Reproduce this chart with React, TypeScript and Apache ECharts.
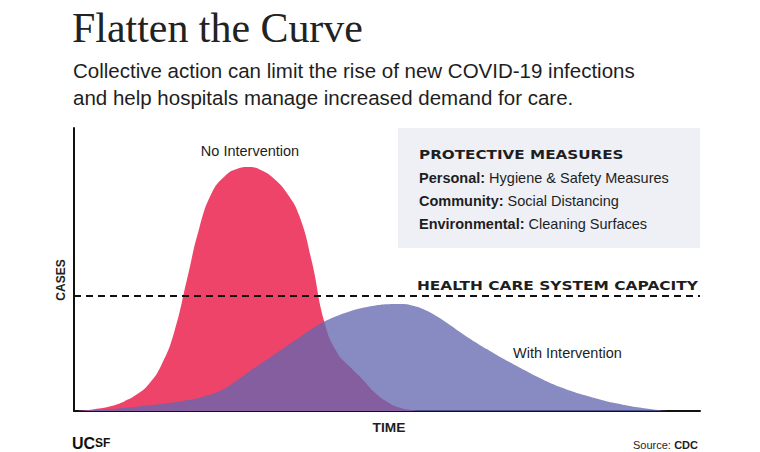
import React, { useEffect, useRef } from "react";
import * as echarts from "echarts";

// ---- data ----
const days = [
  0, 2, 4, 6, 8, 10, 12, 14, 16, 18, 20, 22, 24, 26, 28, 30, 32, 34, 36, 38, 40,
  42, 44, 46, 48, 50, 52, 54, 56, 58, 60, 62, 64, 66, 68, 70, 72, 74, 76, 78, 80,
  82, 84, 86, 88, 90, 92, 94, 96, 98, 100,
];
const noIntervention = [
  0, 0.3, 0.9, 1.8, 3.4, 5.8, 9.6, 16.4, 27.8, 46.0, 64.5, 77.0, 82.8, 85.5, 86.2,
  85.0, 82.0, 77.0, 68.9, 52.7, 31.4, 20.8, 15.8, 11.4, 6.6, 3.3, 1.2, 0.3, 0, 0,
  0, 0, 0, 0, 0, 0, 0, 0, 0, 0, 0, 0, 0, 0, 0, 0, 0, 0, 0, 0, 0,
];
const withIntervention = [
  0, 0.2, 0.4, 0.7, 1.1, 1.5, 2.0, 2.5, 3.1, 3.8, 4.7, 6.0, 7.9, 10.8, 14.0, 17.0,
  20.0, 23.0, 26.0, 29.0, 31.6, 33.6, 35.2, 36.4, 37.2, 37.7, 37.8, 37.3, 35.8,
  33.4, 30.5, 27.4, 24.5, 21.8, 19.2, 16.8, 14.4, 12.1, 10.0, 8.2, 6.6, 5.3, 4.1,
  3.0, 2.1, 1.3, 0.7, 0.2, 0, 0, 0,
];
const capacity = 40.6;

const titleText = "Flatten the Curve";
const subtitleLines = [
  "Collective action can limit the rise of new COVID-19 infections",
  "and help hospitals manage increased demand for care.",
];
const measuresTitle = "PROTECTIVE MEASURES";
const measures = [
  ["Personal:", "Hygiene & Safety Measures"],
  ["Community:", "Social Distancing"],
  ["Environmental:", "Cleaning Surfaces"],
];
const capacityLabel = "HEALTH CARE SYSTEM CAPACITY";
const seriesNames = ["No Intervention", "With Intervention"];
const xName = "TIME";
const yName = "CASES";

export default function App() {
  const ref = useRef<HTMLDivElement>(null);

  useEffect(() => {
    const chart = echarts.init(ref.current!, null, { renderer: "svg" });
    const sans = "'Liberation Sans', Arial, sans-serif";
    const wide = "'DejaVu Sans', sans-serif";
    const ink = "#1e1e1e";

    const graphic: any[] = [
      {
        type: "text",
        x: 72,
        y: 28,
        scaleX: 1.01,
        silent: true,
        style: {
          text: titleText,
          fontFamily: "'Liberation Serif', 'Times New Roman', serif",
          fontSize: 41.5,
          fill: "#222",
          align: "left",
          verticalAlign: "middle",
        },
      },
      ...subtitleLines.map((t, i) => ({
        type: "text",
        x: 73,
        y: 70 + i * 27,
        silent: true,
        style: {
          text: t,
          fontFamily: sans,
          fontSize: 20.5,
          fill: ink,
          align: "left",
          verticalAlign: "middle",
        },
      })),
      {
        type: "rect",
        silent: true,
        shape: { x: 398, y: 128, width: 302, height: 120 },
        style: { fill: "#eef0f6" },
      },
      {
        type: "text",
        x: 419,
        y: 154,
        scaleX: 1.17,
        silent: true,
        style: {
          text: measuresTitle,
          fontFamily: wide,
          fontWeight: "bold",
          fontSize: 13,
          fill: ink,
          align: "left",
          verticalAlign: "middle",
        },
      },
      ...measures.map((m, i) => ({
        type: "text",
        x: 419,
        y: 178 + i * 23,
        silent: true,
        style: {
          text: `{b|${m[0]}} {r|${m[1]}}`,
          fontFamily: sans,
          fontSize: 14.5,
          fill: ink,
          align: "left",
          verticalAlign: "middle",
          rich: {
            b: { fontFamily: sans, fontSize: 14.5, fontWeight: "bold", fill: ink },
            r: { fontFamily: sans, fontSize: 14.5, fill: ink },
          },
        },
      })),
      {
        type: "text",
        x: 698,
        y: 285,
        scaleX: 1.185,
        silent: true,
        style: {
          text: capacityLabel,
          fontFamily: wide,
          fontWeight: "bold",
          fontSize: 13,
          fill: ink,
          align: "right",
          verticalAlign: "middle",
        },
      },
      {
        type: "text",
        x: 250,
        y: 151,
        silent: true,
        style: {
          text: seriesNames[0],
          fontFamily: sans,
          fontSize: 14.5,
          fill: ink,
          align: "center",
          verticalAlign: "middle",
        },
      },
      {
        type: "text",
        x: 513,
        y: 352.5,
        silent: true,
        style: {
          text: seriesNames[1],
          fontFamily: sans,
          fontSize: 14.5,
          fill: ink,
          align: "left",
          verticalAlign: "middle",
        },
      },
      {
        type: "text",
        x: 389,
        y: 428,
        scaleX: 1.1,
        silent: true,
        style: {
          text: xName,
          fontFamily: sans,
          fontWeight: "bold",
          fontSize: 12.5,
          fill: ink,
          align: "center",
          verticalAlign: "middle",
        },
      },
      {
        type: "text",
        x: 61,
        y: 280,
        rotation: Math.PI / 2,
        silent: true,
        style: {
          text: yName,
          fontFamily: sans,
          fontWeight: "bold",
          fontSize: 12,
          fill: ink,
          align: "center",
          verticalAlign: "middle",
        },
      },
      {
        type: "text",
        x: 72,
        y: 451,
        silent: true,
        style: {
          text: "{a|UC}{b|SF}",
          fontFamily: sans,
          fill: "#111",
          align: "left",
          verticalAlign: "bottom",
          rich: {
            a: { fontFamily: sans, fontSize: 16, fontWeight: "bold", fill: "#111" },
            b: { fontFamily: sans, fontSize: 12, fontWeight: "bold", fill: "#111" },
          },
        },
      },
      {
        type: "text",
        x: 698,
        y: 451,
        silent: true,
        style: {
          text: "{r|Source:} {b|CDC}",
          fontFamily: sans,
          fill: ink,
          align: "right",
          verticalAlign: "bottom",
          rich: {
            r: { fontFamily: sans, fontSize: 11, fill: ink },
            b: { fontFamily: sans, fontSize: 11, fontWeight: "bold", fill: ink },
          },
        },
      },
    ];

    chart.setOption({
      animation: false,
      backgroundColor: "#ffffff",
      grid: { left: 74, right: 60, top: 128, bottom: 41 },
      xAxis: {
        type: "value",
        min: 0,
        max: 100,
        axisLine: { show: true, lineStyle: { color: "#111", width: 2 } },
        axisTick: { show: false },
        axisLabel: { show: false },
        splitLine: { show: false },
      },
      yAxis: {
        type: "value",
        min: 0,
        max: 100,
        axisLine: { show: true, lineStyle: { color: "#111", width: 2 } },
        axisTick: { show: false },
        axisLabel: { show: false },
        splitLine: { show: false },
      },
      series: [
        {
          name: seriesNames[0],
          type: "line",
          data: days.map((d, i) => [d, noIntervention[i]]),
          smooth: 0.5,
          symbol: "none",
          silent: true,
          lineStyle: { width: 0, opacity: 0 },
          areaStyle: { color: "#ee4469", opacity: 1 },
          z: 2,
        },
        {
          name: seriesNames[1],
          type: "line",
          data: days.map((d, i) => [d, withIntervention[i]]),
          smooth: 0.5,
          symbol: "none",
          silent: true,
          lineStyle: { width: 0, opacity: 0 },
          areaStyle: { color: "rgb(100,103,176)", opacity: 0.77 },
          z: 3,
        },
        {
          name: capacityLabel,
          type: "line",
          data: [
            [0, capacity],
            [100, capacity],
          ],
          symbol: "none",
          silent: true,
          lineStyle: { color: "#111", width: 2, type: [7, 5] },
          z: 4,
        },
      ],
      graphic,
    });

    return () => chart.dispose();
  }, []);

  return (
    <div
      ref={ref}
      style={{
        position: "fixed",
        left: 0,
        top: 0,
        width: 760,
        height: 452,
        background: "#fff",
      }}
    />
  );
}
